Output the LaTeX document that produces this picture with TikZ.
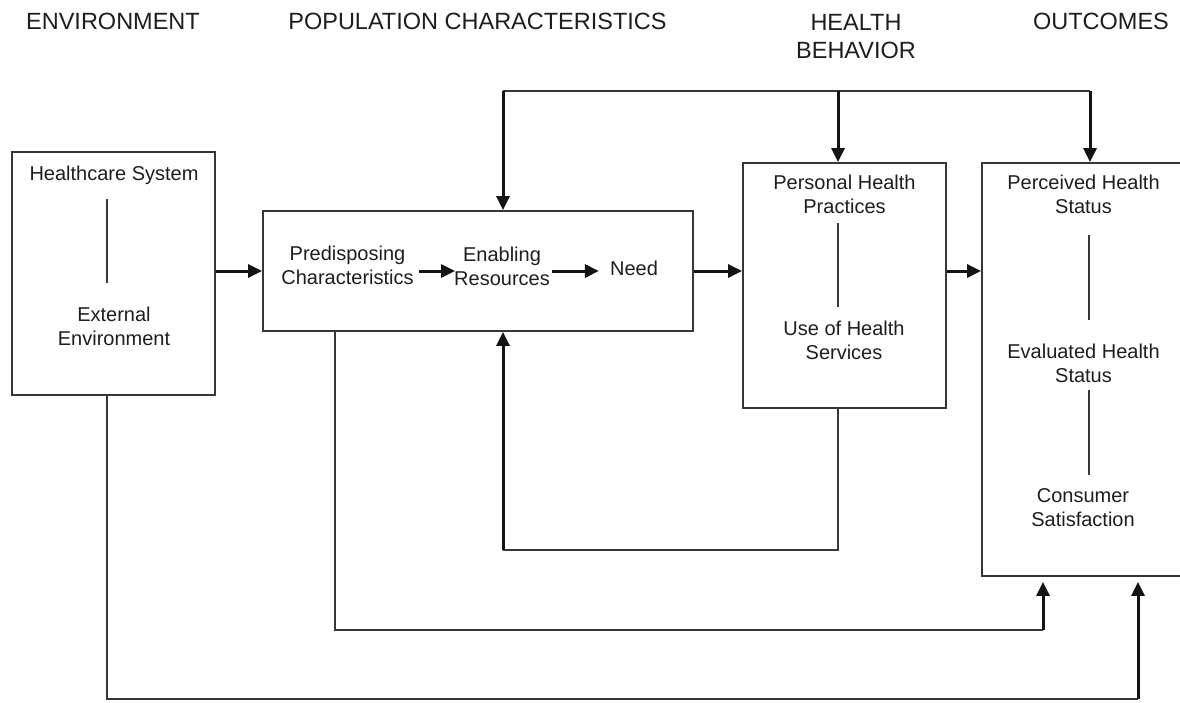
\documentclass[tikz,border=0pt]{standalone}
\usepackage{fontspec}
\setmainfont{Liberation Sans}
\usetikzlibrary{arrows.meta}
\definecolor{ln}{RGB}{55,55,55}
\definecolor{tx}{RGB}{30,30,30}
\definecolor{ar}{RGB}{20,20,20}
\begin{document}
\begin{tikzpicture}[x=1pt,y=-1pt,
  box/.style={draw=ln, line width=1.8pt, rectangle, inner sep=0pt},
  lbl/.style={text=tx, font=\fontsize{20}{24}\selectfont, align=center, inner sep=1pt},
  hdr/.style={text=tx, font=\fontsize{23.5}{28}\selectfont, align=center, inner sep=0pt},
  arr/.style={draw=ar, line width=3pt, -{Triangle[length=14pt,width=13pt]}},
  fb/.style={draw=ln, line width=2pt},
  divider/.style={draw=ln, line width=1.4pt}]
\clip (0,0) rectangle (1180,702);
\fill[white] (0,0) rectangle (1180,702);

% headers
\node[hdr] (h1) at (113,21) {ENVIRONMENT};
\node[hdr] (h2) at (477.5,21) {POPULATION CHARACTERISTICS};
\node[hdr] (h3) at (856,37) {HEALTH\\BEHAVIOR};
\node[hdr] (h4) at (1101,21) {OUTCOMES};

% boxes
\node[box, minimum width=203pt, minimum height=243pt] (env) at (113.5,273.5) {};
\node[box, minimum width=430pt, minimum height=120pt] (pop) at (478,271) {};
\node[box, minimum width=203pt, minimum height=245pt] (hb) at (844.5,285.5) {};
\node[box, minimum width=206pt, minimum height=413pt] (out) at (1085,369.5) {};

% environment contents
\node[lbl] (hs) at (114,175) {Healthcare System};
\node[lbl] (ee) at (114,326) {External\\Environment};
\draw[divider] (107,199) -- (107,283);

% population contents
\node[lbl] (pc) at (347.5,265) {Predisposing\\Characteristics};
\node[lbl] (er) at (502,266) {Enabling\\Resources};
\node[lbl] (nd) at (634,268) {Need};
\coordinate (ay) at (0,271);
\draw[arr, shorten <=4pt, shorten >=-2pt] (pc.east |- ay) -- (er.west |- ay);
\draw[arr] ([xshift=1pt]er.east |- ay) -- ([xshift=-10pt]nd.west |- ay);

% health behavior contents
\node[lbl] (php) at (844.5,194) {Personal Health\\Practices};
\node[lbl] (uhs) at (844,340) {Use of Health\\Services};
\draw[divider] (838,223) -- (838,307);

% outcomes contents
\node[lbl] (phs) at (1083.5,194) {Perceived Health\\Status};
\node[lbl] (ehs) at (1083.5,363) {Evaluated Health\\Status};
\node[lbl] (cs) at (1083,508) {Consumer\\Satisfaction};
\draw[divider] (1089,235) -- (1089,320);
\draw[divider] (1089,390) -- (1089,475);

% main flow arrows
\draw[arr] (env.east |- ay) -- (pop.west |- ay);
\draw[arr] (pop.east |- ay) -- (hb.west |- ay);
\draw[arr] (hb.east |- ay) -- (out.west |- ay);

% top feedback
\coordinate (tl) at (503,91);
\coordinate (tm) at (838,91);
\coordinate (tr) at (1090,91);
\draw[fb] (tl) -- (tr);
\draw[arr] (tl) -- (tl |- pop.north);
\draw[arr] (tm) -- (tm |- hb.north);
\draw[arr] (tr) -- (tr |- out.north);

% feedback from health behavior to population
\coordinate (fb1) at (838,550);
\coordinate (fb2) at (503,550);
\draw[fb] (fb1 |- hb.south) -- (fb1) -- (fb2);
\draw[arr] (fb2) -- (fb2 |- pop.south);

% population to outcomes
\coordinate (pb1) at (335,630);
\coordinate (pb2) at (1043,630);
\draw[fb] (pb1 |- pop.south) -- (pb1) -- (pb2);
\draw[arr, shorten >=5pt] (pb2) -- (pb2 |- out.south);

% environment to outcomes
\coordinate (eb1) at (107,699);
\coordinate (eb2) at (1138,699);
\draw[fb] (eb1 |- env.south) -- (eb1) -- (eb2);
\draw[arr, shorten >=5pt] (eb2) -- (eb2 |- out.south);
\end{tikzpicture}
\end{document}
